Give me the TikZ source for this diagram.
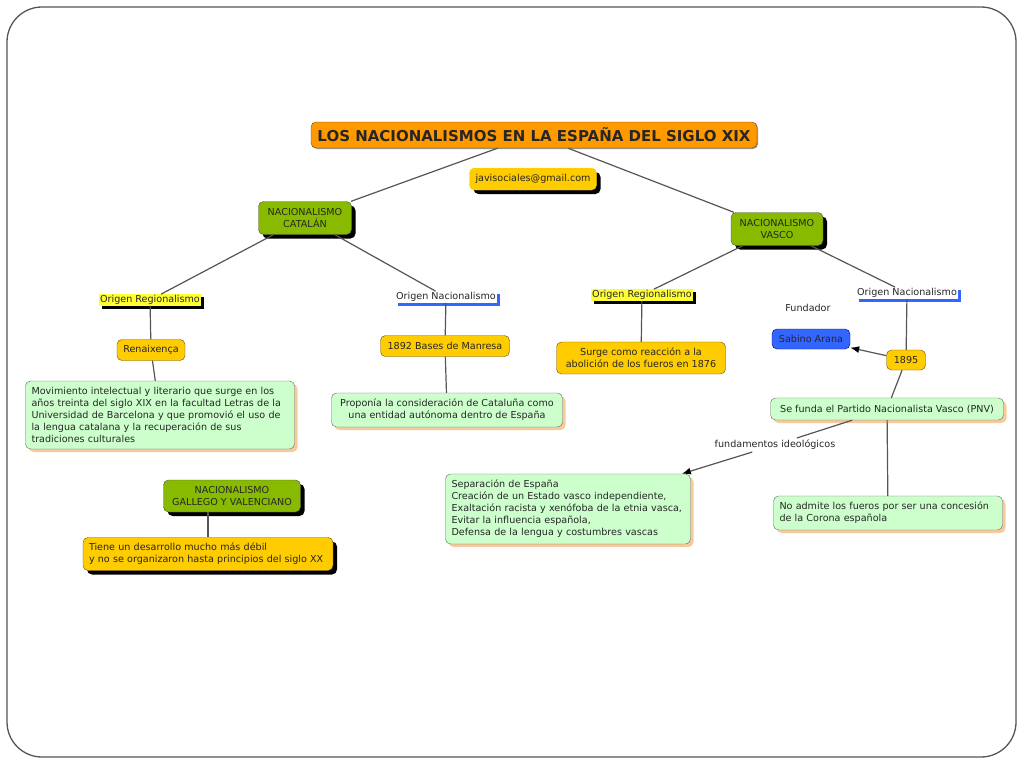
\documentclass[tikz,border=0pt]{standalone}
\usepackage{fontspec}
\setmainfont{DejaVu Sans}
\usepackage{tikz}
\usetikzlibrary{arrows.meta,shadows}
\definecolor{naranja}{HTML}{FF9900}
\definecolor{amarillo}{HTML}{FFCC00}
\definecolor{verde}{HTML}{88BB00}
\definecolor{verdeclaro}{HTML}{CCFFCC}
\definecolor{azul}{HTML}{3366FF}
\definecolor{resalte}{HTML}{FFFF33}
\definecolor{linea}{HTML}{555555}
\definecolor{sombra}{HTML}{F7C99B}
\definecolor{borde}{HTML}{6B4A10}
\tikzstyle{caja} = [rectangle, rounded corners=5pt, draw=borde, inner sep=3pt, inner xsep=6pt, text=black!85, font=\fontsize{9.6}{12}\selectfont]
\tikzstyle{titulo} = [caja, fill=naranja, font=\bfseries\fontsize{15}{17}\selectfont, drop shadow={shadow xshift=1pt, shadow yshift=-1pt, fill=black!40, opacity=1}]
\tikzstyle{nacion} = [caja, fill=verde, draw=black!70, align=center, drop shadow={shadow xshift=4pt, shadow yshift=-4pt, fill=black, opacity=1}]
\tikzstyle{dato} = [caja, fill=amarillo]
\tikzstyle{datoSombra} = [dato, drop shadow={shadow xshift=4pt, shadow yshift=-4pt, fill=black, opacity=1}]
\tikzstyle{nota} = [caja, fill=verdeclaro, draw=black!60, drop shadow={shadow xshift=3pt, shadow yshift=-3pt, fill=sombra, opacity=1}]
\tikzstyle{persona} = [caja, fill=azul, draw=blue!50!black]
\tikzstyle{origenReg} = [rectangle, fill=resalte, inner sep=1pt, text=black!85, font=\fontsize{9.6}{12}\selectfont, drop shadow={shadow xshift=3pt, shadow yshift=-3pt, fill=black, opacity=1}]
\tikzstyle{origenNac} = [rectangle, fill=white, inner sep=1pt, text=black!85, font=\fontsize{9.6}{12}\selectfont, drop shadow={shadow xshift=3pt, shadow yshift=-3pt, fill=azul, opacity=1}]
\tikzstyle{texto} = [inner sep=2pt, text=black!85, font=\fontsize{9.6}{12}\selectfont]
\tikzstyle{link} = [draw=linea, line width=1.2pt]
\begin{document}
\begin{tikzpicture}[x=1pt, y=-1pt, >={Latex[length=9pt,width=7pt,color=black]}]

\useasboundingbox (0,0) rectangle (1024,768);
\draw[linea, line width=1.3pt, rounded corners=35pt] (7,7) rectangle (1016,757);

% cabecera
\node (titulo) [titulo, minimum width=446pt, minimum height=26pt] at (534,135) {LOS NACIONALISMOS EN LA ESPAÑA DEL SIGLO XIX};
\node (correo) [datoSombra, draw=amarillo, minimum width=126pt, minimum height=22pt] at (533,179) {javisociales@gmail.com};

% Cataluna
\node (catalan) [nacion, minimum width=93pt, minimum height=33pt] at (305,218) {NACIONALISMO\\CATALÁN};
\node (catReg) [origenReg] at (150,300) {Origen Regionalismo};
\node (catNac) [origenNac] at (446,297) {Origen Nacionalismo};
\node (renaix) [dato, minimum width=68pt, minimum height=21pt] at (151,350) {Renaixença};
\node (manresa) [dato, minimum width=129pt, minimum height=21pt] at (445,346) {1892 Bases de Manresa};
\node (movim) [nota, align=left, text width=257pt, minimum height=68pt] at (160,415) {Movimiento intelectual y literario que surge en los\\años treinta del siglo XIX en la facultad Letras de la\\Universidad de Barcelona y que promovió el uso de\\la lengua catalana y la recuperación de sus\\tradiciones culturales};
\node (propon) [nota, align=center, minimum width=231pt, minimum height=34pt] at (447,410) {Proponía la consideración de Cataluña como\\una entidad autónoma dentro de España};

% Galicia y Valencia
\node (gallego) [nacion, minimum width=137pt, minimum height=32pt] at (232,496) {NACIONALISMO\\GALLEGO Y VALENCIANO};
\node (tiene) [datoSombra, align=left, text width=238pt, minimum height=33pt] at (208,554) {Tiene un desarrollo mucho más débil\\y no se organizaron hasta principios del siglo XX};

% Pais Vasco
\node (vasco) [nacion, minimum width=92pt, minimum height=33pt] at (777,229) {NACIONALISMO\\VASCO};
\node (vasReg) [origenReg] at (642,295) {Origen Regionalismo};
\node (vasNac) [origenNac] at (907,293) {Origen Nacionalismo};
\node (surge) [dato, align=center, minimum width=169pt, minimum height=32pt] at (641,358) {Surge como reacción a la\\abolición de los fueros en 1876};
\node (fundador) [texto] at (808,308) {Fundador};
\node (sabino) [persona, minimum width=78pt, minimum height=20pt] at (811,339) {Sabino Arana};
\node (anyo) [dato, minimum width=39pt, minimum height=20pt] at (906,360) {1895};
\node (pnv) [nota, minimum width=233pt, minimum height=22pt] at (887,409) {Se funda el Partido Nacionalista Vasco (PNV)};
\node (fundam) [texto] at (775,445) {fundamentos ideológicos};
\node (separ) [nota, align=left, text width=233pt, minimum height=70pt] at (568,509) {Separación de España\\Creación de un Estado vasco independiente,\\Exaltación racista y xenófoba de la etnia vasca,\\Evitar la influencia española,\\Defensa de la lengua y costumbres vascas};
\node (noadm) [nota, align=left, text width=217pt, minimum height=34pt] at (888,513) {No admite los fueros por ser una concesión\\de la Corona española};

\draw[link] (titulo) -- (catalan);
\draw[link] (titulo) -- (vasco);
\draw[link] (catalan) -- (catReg);
\draw[link] (catalan) -- (catNac);
\draw[link] (catReg) -- (renaix);
\draw[link] (renaix) -- (movim);
\draw[link] (catNac) -- (manresa);
\draw[link] (manresa) -- (propon);
\draw[link] (tiene |- gallego.south) -- (tiene);
\draw[link] (vasco) -- (vasReg);
\draw[link] (vasco) -- (vasNac);
\draw[link] (vasReg) -- (surge);
\draw[link] (vasNac) -- (anyo);
\draw[link, ->] (anyo) -- (sabino);
\draw[link] (anyo) -- (pnv);
\draw[link] (pnv) -- (fundam);
\draw[link, ->] (fundam) -- (separ);
\draw[link] (pnv) -- (noadm);

\end{tikzpicture}
\end{document}
